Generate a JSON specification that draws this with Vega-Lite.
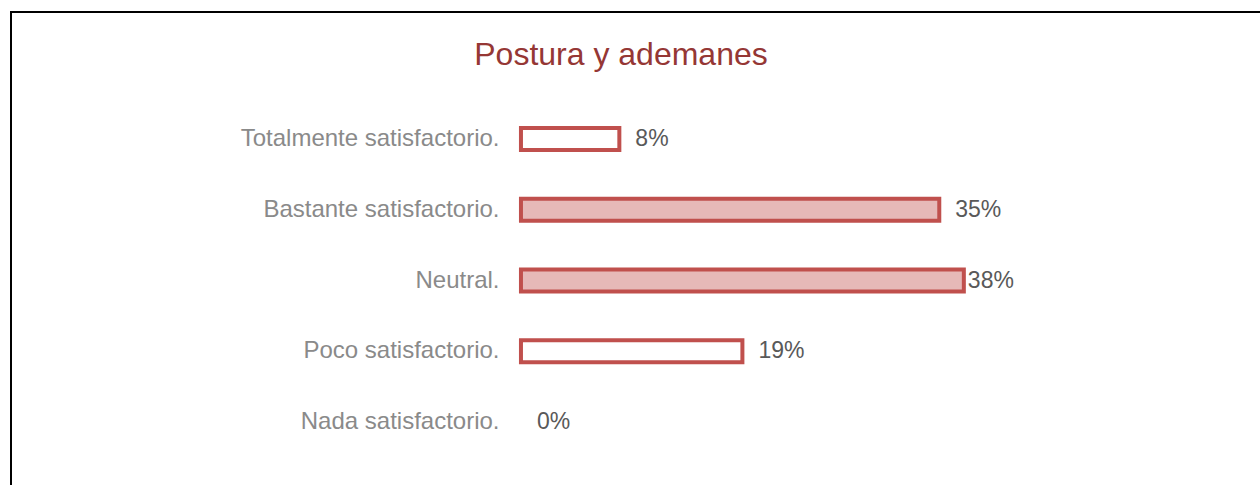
{
  "$schema": "https://vega.github.io/schema/vega-lite/v6.json",
  "width": 1254,
  "height": 479,
  "autosize": {"type": "none"},
  "padding": {"left": 11, "top": 12, "right": -5, "bottom": -6},
  "background": "white",
  "view": {"stroke": "black", "strokeWidth": 2, "fill": "white"},
  "title": {
    "text": "Postura y ademanes",
    "font": "Liberation Sans",
    "fontSize": 32,
    "fontWeight": "normal",
    "color": "#953735",
    "anchor": "middle",
    "dx": -17,
    "offset": -85,
    "baseline": "alphabetic"
  },
  "data": {
    "values": [
      {"cat": "Totalmente satisfactorio.", "v": 0.0833},
      {"cat": "Bastante satisfactorio.", "v": 0.3542},
      {"cat": "Neutral.", "v": 0.375},
      {"cat": "Poco satisfactorio.", "v": 0.1875},
      {"cat": "Nada satisfactorio.", "v": 0}
    ]
  },
  "encoding": {
    "y": {
      "field": "cat",
      "type": "nominal",
      "sort": null,
      "scale": {"paddingInner": 0.23, "paddingOuter": 1, "align": 0.705},
      "axis": {
        "title": null,
        "domain": false,
        "ticks": false,
        "grid": false,
        "offset": -488,
        "labelPadding": 0,
        "labelFont": "Liberation Sans",
        "labelFontSize": 24,
        "labelColor": "#8a8a8a",
        "labelLimit": 500
      }
    },
    "x": {
      "field": "v",
      "type": "quantitative",
      "scale": {"domain": [-0.4318, 0.63], "nice": false, "zero": false},
      "axis": null
    }
  },
  "layer": [
    {
      "transform": [{"filter": "datum.v > 0"}],
      "mark": {"type": "bar", "stroke": "#C0504D", "strokeWidth": 4, "height": {"band": 0.404}},
      "encoding": {
        "x2": {"datum": 0},
        "fill": {
          "condition": {"test": "datum.v > 0.3", "value": "#E6B9B8"},
          "value": "#FFFFFF"
        }
      }
    },
    {
      "transform": [{"filter": "datum.v < 0.37"}],
      "mark": {
        "type": "text",
        "align": "left",
        "baseline": "middle",
        "dx": 16,
        "font": "Liberation Sans",
        "fontSize": 23,
        "color": "#595959"
      },
      "encoding": {
        "text": {"field": "v", "type": "quantitative", "format": ".0%"}
      }
    },
    {
      "transform": [{"filter": "datum.v >= 0.37"}],
      "mark": {
        "type": "text",
        "align": "left",
        "baseline": "middle",
        "dx": 4,
        "font": "Liberation Sans",
        "fontSize": 23,
        "color": "#595959"
      },
      "encoding": {
        "text": {"field": "v", "type": "quantitative", "format": ".0%"}
      }
    }
  ]
}
